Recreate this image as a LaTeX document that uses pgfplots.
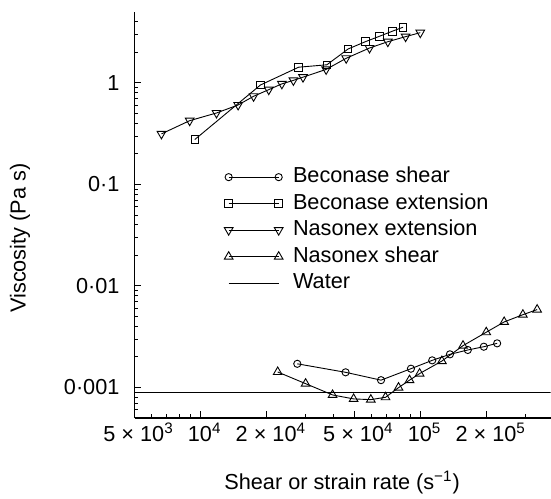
\documentclass[border=0pt]{standalone}
\usepackage{fontspec}
\setmainfont{Liberation Sans}
\usepackage{pgfplots}
\pgfplotsset{compat=1.18}
\begin{document}
\begin{tikzpicture}
\useasboundingbox (-67.25pt,-40pt) rectangle (208.25pt,209pt);
\begin{axis}[
  at={(0,0)}, anchor=south west,
  scale only axis,
  width=208pt, height=203pt,
  xmode=log, ymode=log,
  xmin=5000, xmax=390000,
  ymin=5e-4, ymax=5,
  axis lines=left,
  axis line style={-, line width=0.75pt},
  tick align=inside,
  tick style={black, line width=0.5pt},
  major tick length=3.5pt,
  minor tick length=2pt,
  xtick={5000,10000,20000,50000,100000,200000},
  xticklabels={5 × 10\textsuperscript{3},10\textsuperscript{4},2 × 10\textsuperscript{4},5 × 10\textsuperscript{4},10\textsuperscript{5},2 × 10\textsuperscript{5}},
  minor xtick={6000,7000,8000,9000,30000,40000,60000,70000,80000,90000,300000},
  ytick={0.001,0.01,0.1,1},
  yticklabels={0·001,0·01,0·1,1},
  minor ytick={6e-4,7e-4,8e-4,9e-4,2e-3,3e-3,4e-3,5e-3,6e-3,7e-3,8e-3,9e-3,2e-2,3e-2,4e-2,5e-2,6e-2,7e-2,8e-2,9e-2,0.2,0.3,0.4,0.5,0.6,0.7,0.8,0.9,2,3,4},
  tick label style={font=\fontsize{10.85}{13}\selectfont},
  yticklabel style={xshift=-4pt},
  xticklabel style={yshift=1pt, xshift=2pt},
  label style={font=\fontsize{10.85}{13}\selectfont},
  xlabel={Shear or strain rate (s\textsuperscript{−1})},
  ylabel={Viscosity (Pa s)},
  xlabel style={at={(axis description cs:0.499,-0.16)}, anchor=center},
  ylabel style={at={(axis description cs:-0.275,0.443)}, anchor=center},
  legend cell align=left,
  legend style={draw=none, fill=none, at={(axis description cs:0.215,0.625)}, anchor=north west,
    inner sep=0pt, row sep=0.75pt, font=\fontsize{10.85}{13}\selectfont,
    nodes={inner sep=1pt, text height=8pt, text depth=2.5pt},
    /tikz/every odd column/.append style={column sep=4pt}},
  legend image code/.code={\draw[#1] plot coordinates {(0pt,0pt) (25pt,0pt)};},
  every axis plot/.append style={black, line width=0.45pt, mark options={solid, fill=white, line width=0.45pt}},
]
% Beconase shear
\addplot[mark=o, mark size=1.8pt] coordinates {
(2.75e4,1.71e-3) (4.56e4,1.41e-3) (6.61e4,1.18e-3) (9.04e4,1.53e-3) (1.13e5,1.85e-3)
(1.36e5,2.12e-3) (1.64e5,2.34e-3) (1.94e5,2.52e-3) (2.23e5,2.72e-3)};
\addlegendentry{Beconase shear}
% Beconase extension
\addplot[mark=square, mark size=1.9pt] coordinates {
(9.4e3,0.277) (1.87e4,0.955) (2.79e4,1.43) (3.75e4,1.51) (4.68e4,2.16)
(5.61e4,2.55) (6.52e4,2.89) (7.43e4,3.23) (8.32e4,3.54)};
\addlegendentry{Beconase extension}
% Nasonex extension
\addplot[mark=triangle, mark size=2.5pt, mark options={rotate=180}] coordinates {
(6.63e3,0.315) (8.91e3,0.425) (1.18e4,0.506) (1.48e4,0.607) (1.74e4,0.739)
(2.04e4,0.859) (2.34e4,0.98) (2.64e4,1.06) (2.92e4,1.14) (3.72e4,1.36)
(4.59e4,1.75) (5.86e4,2.21) (7.1e4,2.55) (8.55e4,2.86) (9.97e4,3.13)};
\addlegendentry{Nasonex extension}
% Nasonex shear
\addplot[mark=triangle, mark size=2.5pt] coordinates {
(2.24e4,1.42e-3) (3.0e4,1.09e-3) (3.98e4,8.44e-4) (4.96e4,7.71e-4) (5.94e4,7.59e-4)
(6.93e4,8.0e-4) (7.94e4,9.96e-4) (8.91e4,1.18e-3) (9.9e4,1.37e-3) (1.25e5,1.82e-3)
(1.56e5,2.58e-3) (1.99e5,3.5e-3) (2.4e5,4.42e-3) (2.92e5,5.21e-3) (3.39e5,5.85e-3)};
\addlegendentry{Nasonex shear}
% Water
\addplot[mark=none, line width=0.5pt] coordinates {(5000,8.9e-4) (390000,8.9e-4)};
\addlegendentry{Water}
\end{axis}
\end{tikzpicture}
\end{document}
